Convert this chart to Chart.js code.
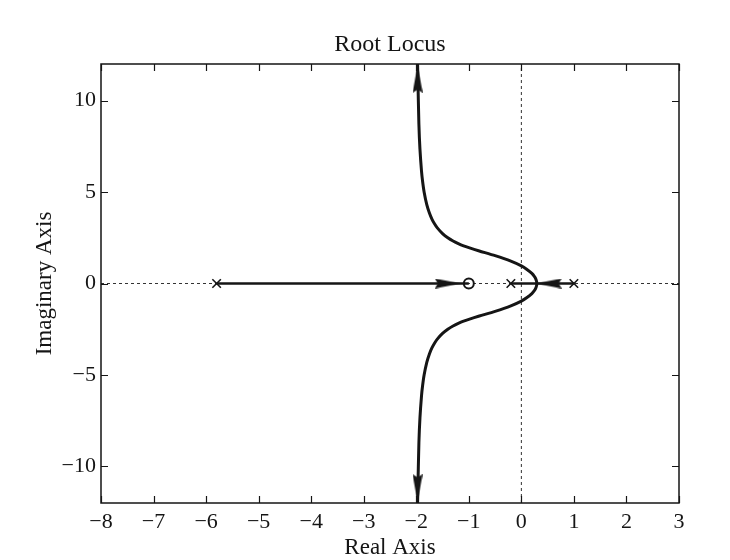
<!DOCTYPE html>
<html><head><meta charset="utf-8">
<script src="https://cdn.jsdelivr.net/npm/chart.js@4.4.1/dist/chart.umd.min.js"></script>
<style>html,body{margin:0;padding:0;background:#fff;}</style>
</head><body>
<canvas id="c" width="730" height="560"></canvas>
<script>
// ---- data ----
const xTickValues = [-8,-7,-6,-5,-4,-3,-2,-1,0,1,2,3];
const yTickValues = [-10,-5,0,5,10];
const poleRe = [-5.8, -0.2, 1.0];
const poleIm = [0, 0, 0];
const zeroRe = [-1];
const zeroIm = [0];
// solid real-axis locus segments
const segARe = [-5.8, -1];
const segAIm = [0, 0];
const segBRe = [-0.2, 0.294, 1.0];
const segBIm = [0, 0, 0];
// complex branches (upper and lower)
const upperRe = [0.294, 0.29, 0.27, 0.25, 0.2, 0.1, 0, -0.2, -0.5, -0.8, -1.0, -1.1, -1.2, -1.3, -1.4, -1.5, -1.6, -1.65, -1.7, -1.75, -1.8, -1.85, -1.88, -1.9, -1.93, -1.95, -1.97, -1.975];
const upperIm = [0, 0.11, 0.28, 0.38, 0.55, 0.78, 0.96, 1.22, 1.52, 1.78, 1.96, 2.06, 2.18, 2.32, 2.5, 2.73, 3.04, 3.25, 3.51, 3.85, 4.31, 4.99, 5.59, 6.13, 7.35, 8.71, 11.3, 12];
const lowerRe = [0.294, 0.29, 0.27, 0.25, 0.2, 0.1, 0, -0.2, -0.5, -0.8, -1.0, -1.1, -1.2, -1.3, -1.4, -1.5, -1.6, -1.65, -1.7, -1.75, -1.8, -1.85, -1.88, -1.9, -1.93, -1.95, -1.97, -1.975];
const lowerIm = [0, -0.11, -0.28, -0.38, -0.55, -0.78, -0.96, -1.22, -1.52, -1.78, -1.96, -2.06, -2.18, -2.32, -2.5, -2.73, -3.04, -3.25, -3.51, -3.85, -4.31, -4.99, -5.59, -6.13, -7.35, -8.71, -11.3, -12];
// arrowhead positions (centres) and directions
const arrowRe = [-1.975, -1.975, -1.4, 0.52];
const arrowIm = [11.2, -11.2, 0, 0];
const arrowDir = [0, 180, 90, 270];
// axis reference lines
const hLineRe = [-8, 3];
const hLineIm = [0, 0];
const vLineRe = [0, 0];
const vLineIm = [-12, 12];

const INK = '#151515';
const FONT = "'Liberation Serif', 'Times New Roman', serif";

function pts(xs, ys){ return xs.map((x,i)=>({x:x, y:ys[i]})); }

function makeArrow(w, h){
  const c = document.createElement('canvas');
  c.width = w; c.height = h;
  const g = c.getContext('2d');
  g.fillStyle = INK;
  g.beginPath();
  g.moveTo(w/2, 0); g.lineTo(w, h); g.lineTo(w/2, h-3); g.lineTo(0, h); g.closePath();
  g.fill();
  return c;
}
const arrowV = makeArrow(10, 28);
const arrowH = makeArrow(10, 26);

const arrowDatasets = arrowRe.map((x,i)=>({
  data: [{x:x, y:arrowIm[i]}],
  showLine:false,
  pointStyle: (arrowDir[i] % 180 === 0) ? arrowV : arrowH,
  rotation: arrowDir[i],
  pointRadius: 10,
  order: 0
}));

const boxPlugin = {
  id:'box',
  afterDatasetsDraw(chart){
    const {ctx, chartArea:a, scales:{x, y}} = chart;
    ctx.save();
    ctx.strokeStyle = INK;
    ctx.lineWidth = 1.5;
    ctx.strokeRect(a.left, a.top, a.right-a.left, a.bottom-a.top);
    ctx.lineWidth = 1.2;
    const L = 7;
    ctx.beginPath();
    xTickValues.forEach(v=>{
      const px = Math.round(x.getPixelForValue(v))+0.5;
      ctx.moveTo(px, a.bottom); ctx.lineTo(px, a.bottom-L);
      ctx.moveTo(px, a.top); ctx.lineTo(px, a.top+L);
    });
    yTickValues.forEach(v=>{
      const py = Math.round(y.getPixelForValue(v))+0.5;
      ctx.moveTo(a.left, py); ctx.lineTo(a.left+L, py);
      ctx.moveTo(a.right, py); ctx.lineTo(a.right-L, py);
    });
    ctx.stroke();
    ctx.restore();
  }
};

const minus = v => String(v).replace('-', '\u2212');

new Chart(document.getElementById('c'), {
  type:'scatter',
  data:{
    datasets:[
      ...arrowDatasets,
      {data: pts(poleRe, poleIm), showLine:false, pointStyle:'crossRot', pointRadius:6, borderColor:INK, borderWidth:1.6, order:0},
      {data: pts(zeroRe, zeroIm), showLine:false, pointStyle:'circle', pointRadius:5, borderColor:INK, backgroundColor:'rgba(0,0,0,0)', borderWidth:2, order:0},
      {data: pts(upperRe, upperIm), showLine:true, borderColor:INK, borderWidth:3, pointRadius:0, tension:0.25, order:1},
      {data: pts(lowerRe, lowerIm), showLine:true, borderColor:INK, borderWidth:3, pointRadius:0, tension:0.25, order:1},
      {data: pts(segARe, segAIm), showLine:true, borderColor:INK, borderWidth:2.6, pointRadius:0, order:1},
      {data: pts(segBRe, segBIm), showLine:true, borderColor:INK, borderWidth:2.6, pointRadius:0, order:1},
      {data: pts(hLineRe, hLineIm), showLine:true, borderColor:'#333', borderWidth:1, borderDash:[3,3], pointRadius:0, order:5},
      {data: pts(vLineRe, vLineIm), showLine:true, borderColor:'#333', borderWidth:1, borderDash:[3,3], pointRadius:0, order:5}
    ]
  },
  options:{
    responsive:false,
    animation:false,
    devicePixelRatio:1,
    layout:{padding:{left:0, right:51, top:0, bottom:0}},
    plugins:{
      legend:{display:false},
      tooltip:{enabled:false},
      title:{display:false}
    },
    scales:{
      x:{
        type:'linear', min:-8, max:3,
        grid:{display:false, drawTicks:false},
        border:{display:false},
        ticks:{stepSize:1, includeBounds:false, padding:6, color:INK, font:{family:FONT, size:22}, callback:minus, maxRotation:0},
        title:{display:true, text:'Real Axis', color:INK, font:{family:FONT, size:23, lineHeight:1}, padding:{top:0, bottom:1}},
        afterFit(s){ s.height = 57; }
      },
      top:{
        type:'linear', position:'top', min:-8, max:3,
        grid:{display:false, drawTicks:false},
        border:{display:false},
        ticks:{display:false},
        title:{display:true, text:'Root Locus', color:INK, font:{family:FONT, size:24, lineHeight:1}, padding:{top:33, bottom:0}},
        afterFit(s){ s.height = 64; }
      },
      y:{
        type:'linear', min:-12, max:12,
        grid:{display:false, drawTicks:false},
        border:{display:false},
        ticks:{stepSize:5, includeBounds:false, padding:5, color:INK, font:{family:FONT, size:22}, callback:minus},
        title:{display:true, text:'Imaginary Axis', color:INK, font:{family:FONT, size:23, lineHeight:1}, padding:{top:33.5, bottom:0}},
        afterFit(s){ s.width = 101; }
      }
    }
  },
  plugins:[boxPlugin]
});
</script>
</body></html>
